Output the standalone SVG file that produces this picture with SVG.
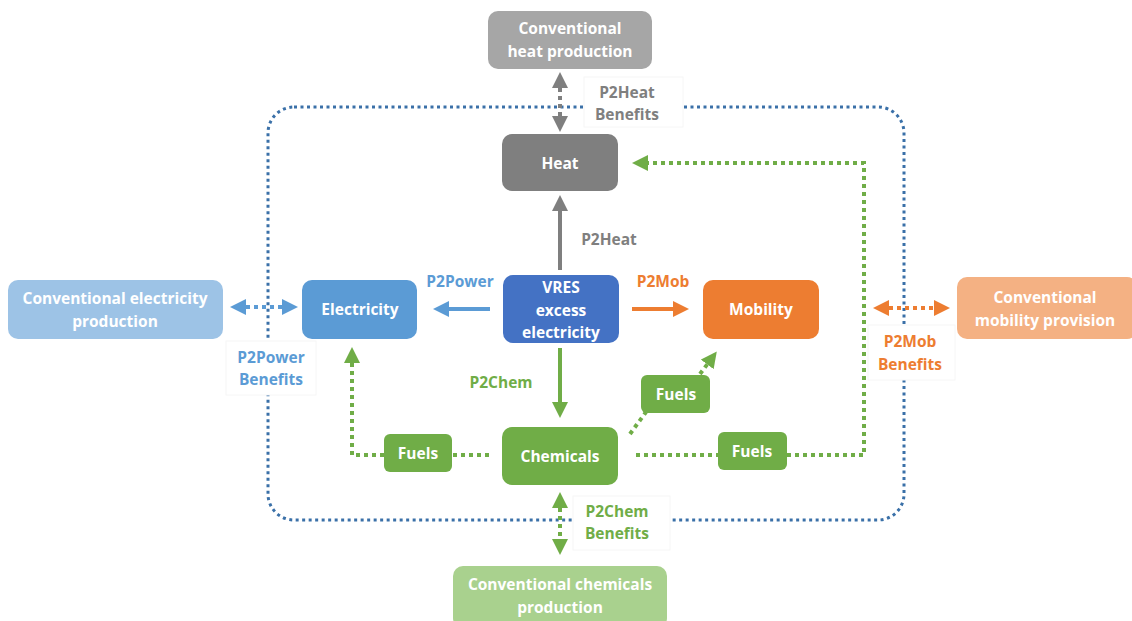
<svg xmlns="http://www.w3.org/2000/svg" width="1132" height="621" viewBox="0 0 1132 621">
<defs>
<style>
text{font-family:"Open Sans","Liberation Sans",sans-serif;font-weight:bold;font-size:15.5px;text-anchor:middle;dominant-baseline:central}
.w{fill:#fff}
.lbl{fill:#fff;stroke:#f6f6f6;stroke-width:1}
.dotb{fill:none;stroke:#3a70a8;stroke-width:3;stroke-dasharray:3 3.5}
.dotg{fill:none;stroke:#70ad47;stroke-width:4;stroke-dasharray:4 4}
</style>
<marker id="ag" viewBox="0 0 10 10" refX="5" refY="5" markerWidth="4" markerHeight="4" orient="auto-start-reverse"><path d="M0,0 L10,5 L0,10 z" fill="#70ad47"/></marker>
<marker id="agr" viewBox="0 0 10 10" refX="5" refY="5" markerWidth="4" markerHeight="4" orient="auto-start-reverse"><path d="M0,0 L10,5 L0,10 z" fill="#7f7f7f"/></marker>
<marker id="ab" viewBox="0 0 10 10" refX="5" refY="5" markerWidth="4" markerHeight="4" orient="auto-start-reverse"><path d="M0,0 L10,5 L0,10 z" fill="#5b9bd5"/></marker>
<marker id="ao" viewBox="0 0 10 10" refX="5" refY="5" markerWidth="4" markerHeight="4" orient="auto-start-reverse"><path d="M0,0 L10,5 L0,10 z" fill="#ed7d31"/></marker>
</defs>

<g id="boundary">
<rect x="268" y="107" width="636" height="413" rx="26" class="dotb"/>
<rect x="584" y="77" width="99" height="50" class="lbl"/>
<rect x="226" y="341" width="90" height="54" class="lbl"/>
<rect x="868" y="325" width="87" height="55" class="lbl"/>
<rect x="573" y="496" width="97" height="54" class="lbl"/>
</g>

<g id="connectors">
<line x1="560" y1="270" x2="560" y2="203" stroke="#7f7f7f" stroke-width="4" marker-end="url(#agr)"/>
<line x1="490" y1="309" x2="441" y2="309" stroke="#5b9bd5" stroke-width="4" marker-end="url(#ab)"/>
<line x1="632" y1="309" x2="681" y2="309" stroke="#ed7d31" stroke-width="4" marker-end="url(#ao)"/>
<line x1="560" y1="348" x2="560" y2="410" stroke="#70ad47" stroke-width="4" marker-end="url(#ag)"/>
<line x1="560" y1="80" x2="560" y2="124" stroke="#7f7f7f" stroke-width="4" stroke-dasharray="4 4" marker-start="url(#agr)" marker-end="url(#agr)"/>
<line x1="238" y1="307" x2="290" y2="307" stroke="#5b9bd5" stroke-width="4" stroke-dasharray="4 4" marker-start="url(#ab)" marker-end="url(#ab)"/>
<line x1="881" y1="308" x2="942" y2="308" stroke="#ed7d31" stroke-width="4" stroke-dasharray="4 4" marker-start="url(#ao)" marker-end="url(#ao)"/>
<line x1="560" y1="500" x2="560" y2="547" stroke="#70ad47" stroke-width="4" stroke-dasharray="4 4" marker-start="url(#ag)" marker-end="url(#ag)"/>
<path d="M489,455 H452" class="dotg"/>
<path d="M384,455 H352 V355" class="dotg" marker-end="url(#ag)"/>
<path d="M636,455 H718" class="dotg"/>
<path d="M787,455 H864 V163 H640" class="dotg" marker-end="url(#ag)"/>
<path d="M630,434 L646,412" class="dotg"/>
<path d="M700,374 L712,358" class="dotg" marker-end="url(#ag)"/>
</g>

<g id="conv-heat"><rect x="488" y="11" width="164" height="58" rx="10" fill="#a6a6a6"/><text x="570" y="28" class="w">Conventional</text><text x="570" y="51" class="w">heat production</text></g>
<g id="heat"><rect x="502" y="134" width="116" height="57" rx="10" fill="#7f7f7f"/><text x="560" y="163" class="w">Heat</text></g>
<g id="vres"><rect x="503" y="275" width="116" height="68" rx="10" fill="#4472c4"/><text x="561" y="287" class="w">VRES</text><text x="561" y="310" class="w">excess</text><text x="561" y="332" class="w">electricity</text></g>
<g id="electricity"><rect x="302" y="280" width="115" height="59" rx="10" fill="#5b9bd5"/><text x="360" y="309" class="w">Electricity</text></g>
<g id="mobility"><rect x="703" y="280" width="116" height="59" rx="10" fill="#ed7d31"/><text x="761" y="309" class="w">Mobility</text></g>
<g id="chemicals"><rect x="502" y="427" width="116" height="58" rx="10" fill="#70ad47"/><text x="560" y="456" class="w">Chemicals</text></g>
<g id="conv-elec"><rect x="8" y="280" width="215" height="59" rx="10" fill="#9dc3e6"/><text x="115" y="298" class="w">Conventional electricity</text><text x="115" y="321" class="w">production</text></g>
<g id="conv-mob"><rect x="957" y="277" width="180" height="62" rx="10" fill="#f4b183"/><text x="1045" y="297" class="w">Conventional</text><text x="1045" y="320" class="w">mobility provision</text></g>
<g id="conv-chem"><rect x="453" y="566" width="214" height="62" rx="10" fill="#a9d18e"/><text x="560" y="584" class="w">Conventional chemicals</text><text x="560" y="607" class="w">production</text></g>
<g id="fuels-left"><rect x="384" y="434" width="68" height="38" rx="6" fill="#70ad47"/><text x="418" y="453" class="w">Fuels</text></g>
<g id="fuels-mid"><rect x="641" y="375" width="69" height="38" rx="6" fill="#70ad47"/><text x="676" y="394" class="w">Fuels</text></g>
<g id="fuels-right"><rect x="718" y="432" width="69" height="38" rx="6" fill="#70ad47"/><text x="752" y="451" class="w">Fuels</text></g>

<g id="labels">
<text x="627" y="92" fill="#7f7f7f">P2Heat</text><text x="627" y="114" fill="#7f7f7f">Benefits</text>
<text x="271" y="357" fill="#5b9bd5">P2Power</text><text x="271" y="379" fill="#5b9bd5">Benefits</text>
<text x="910" y="341" fill="#ed7d31">P2Mob</text><text x="910" y="364" fill="#ed7d31">Benefits</text>
<text x="617" y="511" fill="#70ad47">P2Chem</text><text x="617" y="533" fill="#70ad47">Benefits</text>
<text x="609" y="239" fill="#7f7f7f">P2Heat</text>
<text x="460" y="281" fill="#5b9bd5">P2Power</text>
<text x="663" y="281" fill="#ed7d31">P2Mob</text>
<text x="501" y="382" fill="#70ad47">P2Chem</text>
</g>
</svg>
